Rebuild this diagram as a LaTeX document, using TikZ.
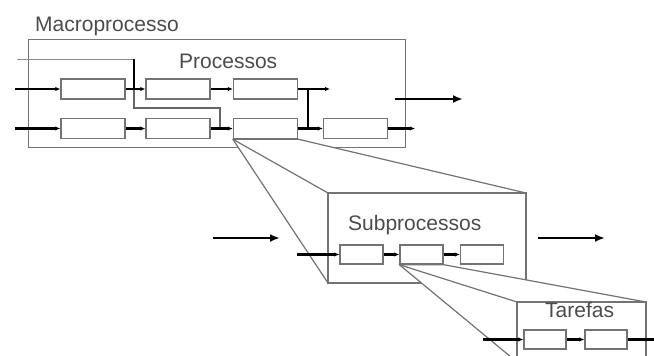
\documentclass[tikz,border=0pt]{standalone}
\usepackage{fontspec}
\setmainfont{Liberation Sans}
\usetikzlibrary{arrows.meta,fit}

\begin{document}
\begin{tikzpicture}[
  x=1pt, y=-1pt,
  font=\fontsize{21}{25}\selectfont,
  frame/.style={draw=black!55, line width=1.4pt, fill=white, inner sep=0pt},
  act/.style={draw=black!55, line width=1.4pt, fill=white, inner sep=0pt,
              minimum width=64pt, minimum height=20pt},
  sact/.style={act, minimum width=43pt, minimum height=19pt},
  beam/.style={draw=black!55, line width=1.2pt, fill=white, line join=round},
  edge/.style={draw=black!55, line width=1.2pt},
  ttl/.style={anchor=base west, inner sep=0pt, text=black!70},
  flow/.style={-{Latex[length=5pt,width=4.5pt]}, line width=2.1pt},
  tap/.style={line width=2.1pt},
  wire/.style={draw=black!45, line width=1pt},
  link/.style={draw=black!60, line width=1.2pt},
  bigarr/.style={-{Latex[length=10pt,width=8pt]}, line width=2.6pt},
]

% ---------------- Canvas ----------------
\fill[white] (0,0) rectangle (654,356);
\useasboundingbox (0,0) rectangle (654,356);
\clip (0,0) rectangle (654,356);

% ---------------- Macroprocesso ----------------
\node[frame, anchor=north west, minimum width=377pt, minimum height=108pt] (macro) at (28,39) {};

\node[act] (p1) at (93,89) {};
\node[act] (p2) at (178,89) {};
\node[act] (p3) at (265.5,89) {};
\node[act] (q1) at (93,128.5) {};
\node[act] (q2) at (178,128.5) {};
\node[act] (q3) at (265.5,128.5) {};
\node[act] (q4) at (355.5,128.5) {};

\coordinate (in1)  at (15,89);
\coordinate (in2)  at (15,128.5);
\coordinate (fb)   at (17,59);
\coordinate (j1)   at (134,89);
\coordinate (j2)   at (220,128.5);
\coordinate (j3)   at (308,89);
\coordinate (j4)   at (308,128.5);
\coordinate (out1) at (330,89);
\coordinate (out2) at (415,128.5);

\draw[wire] (fb) -- (fb -| j1);
\draw[tap]  (fb -| j1) -- (j1);
\draw[link] (j1) -- ++(0,19) -| (j2);
\draw[tap]  (j3) -- (j4);

\draw[flow] (in1) -- (p1.west);
\draw[flow] (p1.east) -- (p2.west);
\draw[flow] (p2.east) -- (p3.west);
\draw[flow] (p3.east) -- (out1);
\draw[flow] (in2) -- (q1.west);
\draw[flow] (q1.east) -- (q2.west);
\draw[flow] (q2.east) -- (q3.west);
\draw[flow] (q3.east) -- (q4.west);
\draw[flow] (q4.east) -- (out2);

\coordinate (big1) at (395,99);
\coordinate (big2) at (463,99);
\draw[bigarr] (big1) -- (big2);

% ---------------- Subprocessos ----------------
\coordinate (subNW) at (328,193);
\coordinate (subSE) at (526,283);

\filldraw[beam] (q3.south west) -- (subNW |- subSE) -- (subNW)
  -- (subSE |- subNW) -- (q3.south east) -- cycle;
\draw[edge] (q3.south west) -- (subNW);

\node[frame, fit=(subNW)(subSE)] (sub) {};
\node[sact] (s1) at (361.5,254.5) {};
\node[sact] (s2) at (421.5,254.5) {};
\node[sact] (s3) at (482,254.5) {};

% ---------------- Tarefas ----------------
\coordinate (tarNW) at (517,302);
\coordinate (tarSE) at (646,362);

\filldraw[beam] (s2.south west) -- (tarNW |- tarSE) -- (tarNW)
  -- (tarSE |- tarNW) -- (s2.south east) -- cycle;
\draw[edge] (s2.south west) -- (tarNW);

\node[frame, fit=(tarNW)(tarSE)] (tar) {};
\node[sact, minimum width=42pt] (t1) at (545,339.5) {};
\node[sact, minimum width=42pt] (t2) at (606,339.5) {};

% ---------------- Lower flows ----------------
\coordinate (sin)  at (297,254.5);
\coordinate (tin)  at (483,339.5);
\coordinate (tout) at (662,339.5);
\coordinate (fl1)  at (213,238);
\coordinate (fl2)  at (280,238);
\coordinate (fr1)  at (538,238);
\coordinate (fr2)  at (605,238);

\draw[flow] (sin) -- (s1.west);
\draw[flow] (s1.east) -- (s2.west);
\draw[flow] (s2.east) -- (s3.west);
\draw[flow] (tin) -- (t1.west);
\draw[flow] (t1.east) -- (t2.west);
\draw[flow] (t2.east) -- (tout);
\draw[bigarr] (fl1) -- (fl2);
\draw[bigarr] (fr1) -- (fr2);

% ---------------- Labels ----------------
\node[ttl] (macrolbl) at (35,31.5) {Macroprocesso};
\node[ttl] (proclbl)  at (179,68) {Processos};
\node[ttl] (sublbl)   at (348,230) {Subprocessos};
\node[ttl] (tarlbl)   at (545,317) {Tarefas};

\end{tikzpicture}
\end{document}
